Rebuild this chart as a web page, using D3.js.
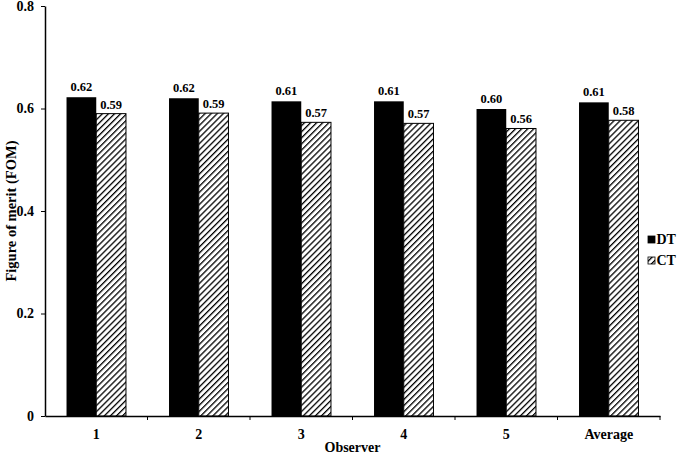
<!DOCTYPE html>
<html>
<head>
<meta charset="utf-8">
<script src="https://cdn.jsdelivr.net/npm/d3@7"></script>
<style>
  body { margin: 0; background: #fff; }
  svg text { font-family: "Liberation Serif", "Times New Roman", Times, serif !important; font-weight: bold; fill: #000; }
</style>
</head>
<body>
<svg id="chart" width="693" height="456"></svg>
<script>
// ---- data
const observers = ['1', '2', '3', '4', '5', 'Average'];
const dtValues = [0.622, 0.620, 0.614, 0.614, 0.599, 0.612];
const ctValues = [0.590, 0.591, 0.573, 0.571, 0.561, 0.577];
const dtLabels = ['0.62', '0.62', '0.61', '0.61', '0.60', '0.61'];
const ctLabels = ['0.59', '0.59', '0.57', '0.57', '0.56', '0.58'];
const yTicks = [0, 0.2, 0.4, 0.6, 0.8];
const seriesNames = ['DT', 'CT'];

const svg = d3.select('#chart');
const margin = { left: 45, right: 33, top: 6, bottom: 40 };
const width = 693 - margin.left - margin.right;
const height = 456 - margin.top - margin.bottom;

// hatch pattern for CT
const hs = 4.3;
const defs = svg.append('defs');
const pat = defs.append('pattern')
  .attr('id', 'hatch')
  .attr('patternUnits', 'userSpaceOnUse')
  .attr('width', hs).attr('height', hs)
  .attr('patternTransform', 'rotate(45)');
pat.append('rect').attr('width', hs).attr('height', hs).attr('fill', '#fff');
pat.append('line').attr('x1', 0).attr('y1', 0).attr('x2', 0).attr('y2', hs)
  .attr('stroke', '#000').attr('stroke-width', 2.6);

const g = svg.append('g').attr('transform', `translate(${margin.left},${margin.top})`);

const x = d3.scaleBand().domain(observers).range([0, width]).paddingInner(0).paddingOuter(0);
const x1 = d3.scaleBand().domain(seriesNames).range([x.bandwidth() * 0.21, x.bandwidth() * 0.79]);
const y = d3.scaleLinear().domain([0, 0.8]).range([height, 0]);

// ---- bars
const rows = observers.map((o, i) => ({ o, dt: dtValues[i], ct: ctValues[i], dl: dtLabels[i], cl: ctLabels[i] }));
const grp = g.selectAll('g.grp').data(rows).join('g')
  .attr('class', 'grp')
  .attr('transform', d => `translate(${x(d.o)},0)`);

grp.append('rect')
  .attr('x', x1('DT')).attr('width', x1.bandwidth())
  .attr('y', d => y(d.dt)).attr('height', d => y(0) - y(d.dt))
  .attr('fill', '#000');
grp.append('rect')
  .attr('x', x1('CT')).attr('width', x1.bandwidth())
  .attr('y', d => y(d.ct)).attr('height', d => y(0) - y(d.ct))
  .attr('fill', 'url(#hatch)').attr('stroke', '#000').attr('stroke-width', 1);

grp.append('text')
  .attr('x', x1('DT') + x1.bandwidth() / 2).attr('y', d => y(d.dt) - 6)
  .attr('text-anchor', 'middle').attr('font-size', 12.5).text(d => d.dl);
grp.append('text')
  .attr('x', x1('CT') + x1.bandwidth() / 2).attr('y', d => y(d.ct) - 5)
  .attr('text-anchor', 'middle').attr('font-size', 12.5).text(d => d.cl);

// ---- axes
const yAxis = d3.axisLeft(y).tickValues(yTicks).tickFormat(d => d === 0 ? '0' : d3.format('.1f')(d)).tickSize(4).tickSizeOuter(0);
const gy = g.append('g').call(yAxis);
gy.selectAll('text').attr('font-size', 14).attr('dx', -4);
gy.select('.domain').attr('stroke-width', 1.5);

const xAxis = d3.axisBottom(x).tickSize(0).tickSizeOuter(0);
const gx = g.append('g').attr('transform', `translate(0,${height})`).call(xAxis);
gx.selectAll('text').attr('font-size', 14).attr('dy', '1.45em');
gx.select('.domain').attr('stroke-width', 1.5);
// tick marks between categories
gx.selectAll('line.sep').data(observers).join('line')
  .attr('class', 'sep')
  .attr('x1', d => x(d) + x.bandwidth()).attr('x2', d => x(d) + x.bandwidth())
  .attr('y1', 0).attr('y2', 4).attr('stroke', '#000');

// ---- axis titles
svg.append('text')
  .attr('transform', `translate(16,${margin.top + height / 2}) rotate(-90)`)
  .attr('text-anchor', 'middle').attr('font-size', 14.5).text('Figure of merit (FOM)');
svg.append('text')
  .attr('x', margin.left + width / 2).attr('y', 452)
  .attr('text-anchor', 'middle').attr('font-size', 14).text('Observer');

// ---- legend
const leg = svg.append('g').attr('transform', 'translate(648,236)');
seriesNames.forEach((s, i) => {
  leg.append('rect').attr('x', 0).attr('y', i * 21).attr('width', 7).attr('height', 7)
    .attr('fill', s === 'DT' ? '#000' : 'url(#hatch)').attr('stroke', '#000').attr('stroke-width', 0.8);
  leg.append('text').attr('x', 8.5).attr('y', i * 21 + 8).attr('font-size', 14).text(s);
});
</script>
</body>
</html>
